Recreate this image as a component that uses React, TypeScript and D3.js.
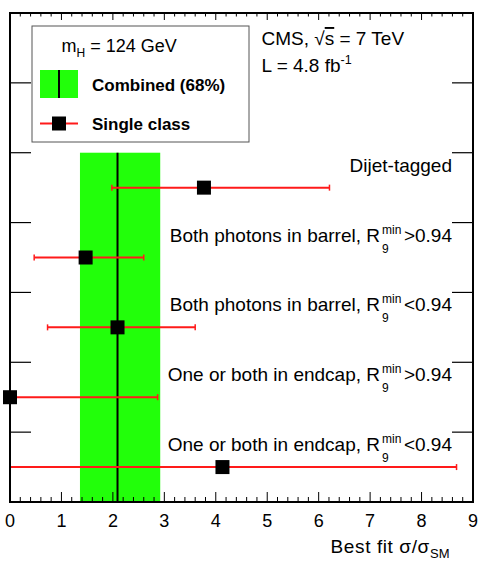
import React from "react";
import * as d3 from "d3";

const categories = [
  "Dijet-tagged",
  "Both photons in barrel, R9min>0.94",
  "Both photons in barrel, R9min<0.94",
  "One or both in endcap, R9min>0.94",
  "One or both in endcap, R9min<0.94",
];
const labelMain = ["Dijet-tagged", "Both photons in barrel, R", "Both photons in barrel, R", "One or both in endcap, R", "One or both in endcap, R"];
const labelTail = ["", ">0.94", "<0.94", ">0.94", "<0.94"];
const hasR9 = [false, true, true, true, true];
const rowY = [4.5, 3.5, 2.5, 1.5, 0.5];
const bestFit = [3.77, 1.47, 2.09, 0.0, 4.13];
const errLow = [1.98, 0.47, 0.73, 0.0, 0.0];
const errHigh = [6.21, 2.6, 3.6, 2.87, 8.68];
const combinedValue = 2.09;
const combinedLow = 1.36;
const combinedHigh = 2.92;
const combinedTop = 5;
const xTicks = [0, 1, 2, 3, 4, 5, 6, 7, 8, 9];

const W = 478, H = 562;
const L = 10, R = 473, T = 13, B = 502;
const FONT = "'Liberation Sans', Arial, Helvetica, sans-serif";
const GREEN = "#22ff0a";
const RED = "#ff1a1a";

export default function App() {
  const x = d3.scaleLinear().domain([0, 9]).range([L, R]);
  const y = d3.scaleLinear().domain([0, 7]).range([B, T]);
  const minorX = d3.range(0, 9.001, 0.2);
  const yTicks = d3.range(1, 7, 1);
  const ms = 14;
  const labelRight = 452;
  const rEnd = 380;

  return (
    <svg width={W} height={H} style={{ position: "absolute", left: 0, top: 0, background: "#fff" }} fontFamily={FONT}>
      {/* combined band */}
      <rect x={x(combinedLow)} y={y(combinedTop)} width={x(combinedHigh) - x(combinedLow)} height={y(0) - y(combinedTop)} fill={GREEN} />
      <line x1={x(combinedValue)} x2={x(combinedValue)} y1={y(combinedTop)} y2={y(0)} stroke="#000" strokeWidth={2} />

      {/* x ticks bottom & top */}
      {minorX.map((v, i) => {
        const major = Math.abs(v - Math.round(v)) < 1e-6;
        const len = major ? 10 : 5;
        return (
          <g key={i}>
            <line x1={x(v)} x2={x(v)} y1={B} y2={B - len} stroke="#000" strokeWidth={1} />
            <line x1={x(v)} x2={x(v)} y1={T} y2={T + len * 0.7} stroke="#000" strokeWidth={1} />
          </g>
        );
      })}
      {/* y ticks */}
      {yTicks.map((v) => (
        <g key={v}>
          <line x1={L} x2={L + 21} y1={y(v)} y2={y(v)} stroke="#000" strokeWidth={1.2} />
          <line x1={R} x2={R - 21} y1={y(v)} y2={y(v)} stroke="#000" strokeWidth={1.2} />
        </g>
      ))}

      {/* points */}
      {categories.map((c, i) => {
        const yy = y(rowY[i]);
        const base = yy - 16;
        return (
          <g key={c}>
            <line x1={x(errLow[i])} x2={x(errHigh[i])} y1={yy} y2={yy} stroke={RED} strokeWidth={2} />
            <line x1={x(errLow[i])} x2={x(errLow[i])} y1={yy - 3} y2={yy + 3} stroke={RED} strokeWidth={1.5} />
            <line x1={x(errHigh[i])} x2={x(errHigh[i])} y1={yy - 3} y2={yy + 3} stroke={RED} strokeWidth={1.5} />
            <rect x={x(bestFit[i]) - ms / 2} y={yy - ms / 2} width={ms} height={ms} fill="#000" />
            {hasR9[i] ? (
              <g fill="#000">
                <text x={rEnd} y={base} textAnchor="end" fontSize={19}>{labelMain[i]}</text>
                <text x={rEnd + 2} y={base - 8} textAnchor="start" fontSize={12}>min</text>
                <text x={rEnd + 2} y={base + 11} textAnchor="start" fontSize={12}>9</text>
                <text x={labelRight} y={base} textAnchor="end" fontSize={19}>{labelTail[i]}</text>
              </g>
            ) : (
              <text x={labelRight} y={base} textAnchor="end" fontSize={19} fill="#000">{labelMain[i]}</text>
            )}
          </g>
        );
      })}

      {/* frame */}
      <rect x={L} y={T} width={R - L} height={B - T} fill="none" stroke="#000" strokeWidth={2} />

      {/* x tick labels */}
      {xTicks.map((v) => (
        <text key={v} x={x(v)} y={527} textAnchor="middle" fontSize={18} fill="#000">{v}</text>
      ))}
      <text x={450} y={553} textAnchor="end" fontSize={19} letterSpacing={0.6} fill="#000">
        Best fit σ/σ<tspan fontSize={13} dy={5} letterSpacing={0.3}>SM</tspan>
      </text>

      {/* legend */}
      <rect x={32} y={26} width={217} height={116} fill="#fff" stroke="#555" strokeWidth={1} />
      <text x={61.5} y={52} fontSize={18} fill="#000">
        m<tspan fontSize={12} dy={5}>H</tspan><tspan dy={-5}> = 124 GeV</tspan>
      </text>
      <rect x={40} y={70} width={38} height={28} fill={GREEN} />
      <line x1={59} x2={59} y1={70} y2={98} stroke="#000" strokeWidth={2} />
      <text x={92} y={91} fontSize={17} fontWeight="bold" fill="#000">Combined (68%)</text>
      <line x1={40} x2={78} y1={123.5} y2={123.5} stroke={RED} strokeWidth={2} />
      <rect x={52} y={116.5} width={14} height={14} fill="#000" />
      <text x={92} y={129.5} fontSize={17} fontWeight="bold" fill="#000">Single class</text>

      {/* CMS label */}
      <text x={261.5} y={45} fontSize={19} fill="#000">
        CMS, √<tspan textDecoration="overline">s</tspan> = 7 TeV
      </text>
      <text x={261.5} y={72} fontSize={19} fill="#000">
        L = 4.8 fb<tspan fontSize={12.5} dy={-8}>-1</tspan>
      </text>
    </svg>
  );
}
